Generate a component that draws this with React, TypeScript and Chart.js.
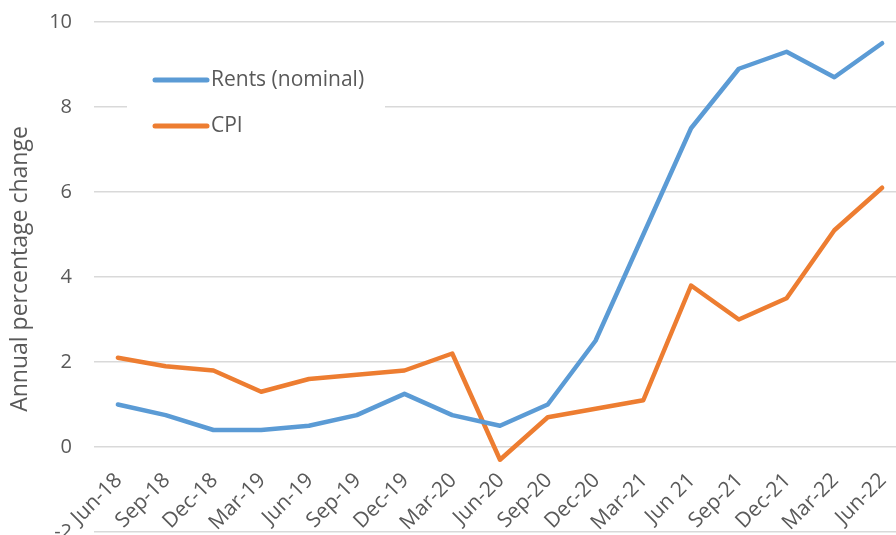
import React, { useEffect, useRef } from 'react';
import { Chart, registerables } from 'chart.js';

Chart.register(...registerables);

const categories = ['Jun-18', 'Sep-18', 'Dec-18', 'Mar-19', 'Jun-19', 'Sep-19', 'Dec-19', 'Mar-20', 'Jun-20', 'Sep-20', 'Dec-20', 'Mar-21', 'Jun 21', 'Sep-21', 'Dec-21', 'Mar-22', 'Jun-22'];
const rents = [1.0, 0.75, 0.4, 0.4, 0.5, 0.75, 1.25, 0.75, 0.5, 1.0, 2.5, 5.0, 7.5, 8.9, 9.3, 8.7, 9.5];
const cpi = [2.1, 1.9, 1.8, 1.3, 1.6, 1.7, 1.8, 2.2, -0.3, 0.7, 0.9, 1.1, 3.8, 3.0, 3.5, 5.1, 6.1];
const yMin = -2;
const yMax = 10;
const yStep = 2;
const axisCrossValue = 0;
const yTitle = 'Annual percentage change';

const TEXT = '#595959';
const FONT = '"Open Sans", Lato, sans-serif';

// Category labels drawn rotated next to the horizontal axis, which crosses the value axis at 0
const crossingLabels = {
  id: 'crossingLabels',
  afterDraw(chart: any) {
    const { ctx, chartArea } = chart;
    const xs = chart.scales.x;
    const ys = chart.scales.y;
    const y0 = ys.getPixelForValue(axisCrossValue);
    ctx.save();
    ctx.fillStyle = TEXT;
    ctx.font = `21px ${FONT}`;
    ctx.textAlign = 'right';
    ctx.textBaseline = 'middle';
    (chart.data.labels as string[]).forEach((lab, i) => {
      const x = xs.getPixelForValue(i);
      ctx.save();
      ctx.translate(x + 1, y0 + 30);
      ctx.rotate(-Math.PI / 4);
      ctx.fillText(lab, 0, 0);
      ctx.restore();
    });
    // value axis title
    ctx.save();
    ctx.font = `23px ${FONT}`;
    ctx.textAlign = 'center';
    ctx.textBaseline = 'middle';
    ctx.translate(20, (chartArea.top + chartArea.bottom) / 2 - 8);
    ctx.rotate(-Math.PI / 2);
    ctx.fillText(yTitle, 0, 0);
    ctx.restore();
    ctx.restore();
  },
};

const insideLegend = {
  id: 'insideLegend',
  afterDraw(chart: any) {
    const { ctx, chartArea } = chart;
    const l = chartArea.left;
    const t = chartArea.top;
    ctx.save();
    ctx.fillStyle = '#ffffff';
    ctx.fillRect(l + 33, t + 35, 258, 92);
    chart.data.datasets.forEach((ds: any, i: number) => {
      const y = t + 58 + i * 46;
      ctx.strokeStyle = ds.borderColor;
      ctx.lineWidth = 5;
      ctx.lineCap = 'round';
      ctx.beginPath();
      ctx.moveTo(l + 61, y);
      ctx.lineTo(l + 113, y);
      ctx.stroke();
      ctx.fillStyle = TEXT;
      ctx.font = `21px ${FONT}`;
      ctx.textBaseline = 'middle';
      ctx.textAlign = 'left';
      ctx.fillText(ds.label, l + 117, y);
    });
    ctx.restore();
  },
};

export default function App() {
  const ref = useRef<HTMLCanvasElement>(null);
  useEffect(() => {
    if (!ref.current) return;
    const chart = new Chart(ref.current, {
      type: 'line',
      data: {
        labels: categories,
        datasets: [
          {
            label: 'Rents (nominal)',
            data: rents,
            borderColor: '#5B9BD5',
            backgroundColor: '#5B9BD5',
            borderWidth: 4.5,
            pointRadius: 0,
            tension: 0,
            borderCapStyle: 'round',
            borderJoinStyle: 'round',
          },
          {
            label: 'CPI',
            data: cpi,
            borderColor: '#ED7D31',
            backgroundColor: '#ED7D31',
            borderWidth: 4.5,
            pointRadius: 0,
            tension: 0,
            borderCapStyle: 'round',
            borderJoinStyle: 'round',
          },
        ],
      },
      options: {
        responsive: false,
        animation: false,
        layout: { padding: { top: 22, right: 0, bottom: 13, left: 0 } },
        plugins: {
          legend: { display: false },
          tooltip: { enabled: false },
        },
        scales: {
          x: {
            display: false,
            offset: true,
          },
          y: {
            min: yMin,
            max: yMax,
            grid: { color: '#D9D9D9', lineWidth: 1.5, drawTicks: true, tickLength: 22, tickColor: 'rgba(0,0,0,0)' },
            border: { display: false },
            ticks: {
              stepSize: yStep,
              color: TEXT,
              font: { family: FONT, size: 20 },
              padding: 0,
            },
            afterFit(scale: any) {
              scale.width = 94;
            },
          },
        },
      },
      plugins: [crossingLabels, insideLegend],
    });
    return () => chart.destroy();
  }, []);
  return (
    <div style={{ position: 'fixed', left: 0, top: 0, width: 896, height: 535, overflow: 'hidden', background: '#fff' }}>
      <canvas ref={ref} width={906} height={545} style={{ display: 'block', width: 906, height: 545 }} />
    </div>
  );
}
